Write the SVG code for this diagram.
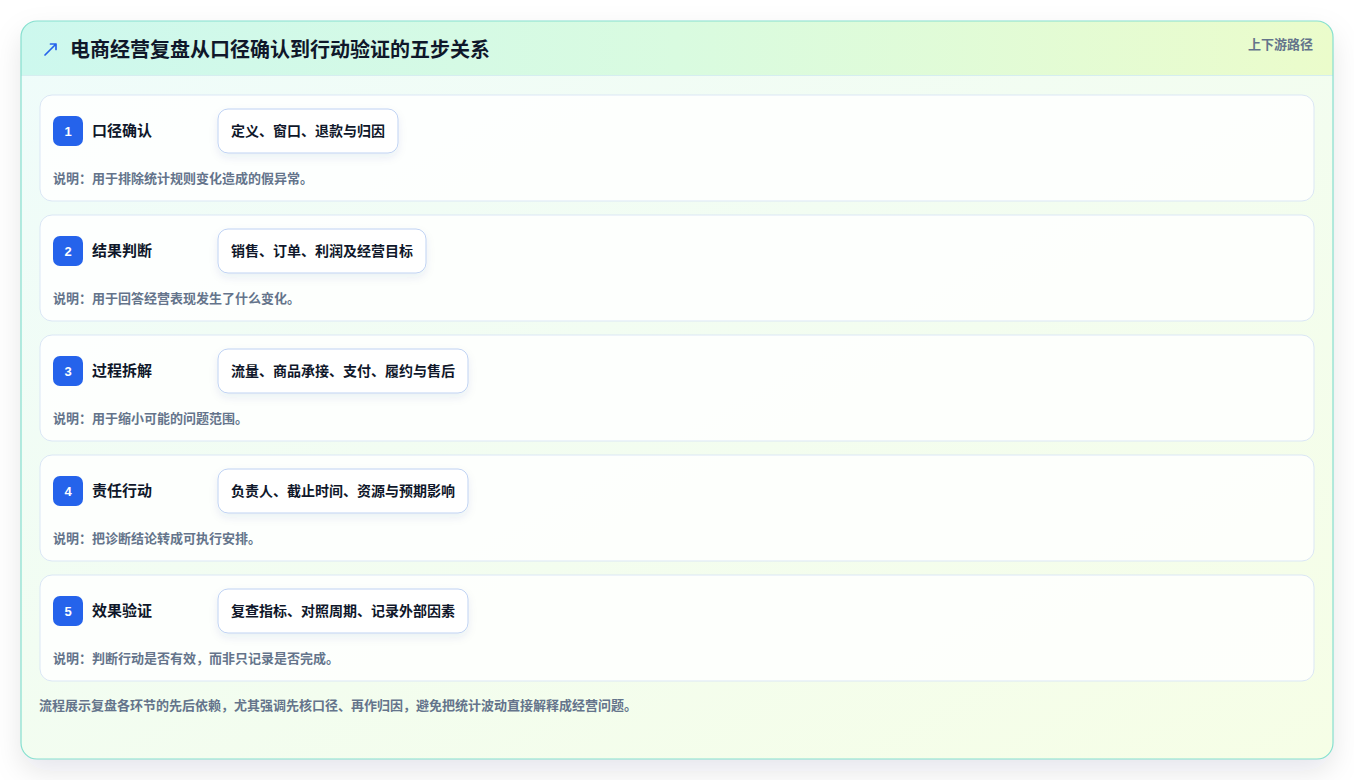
<svg xmlns="http://www.w3.org/2000/svg" width="1354" height="780" viewBox="0 0 1354 780">
<defs>
<linearGradient id="bodyG" x1="0" y1="0" x2="1" y2="1">
<stop offset="0" stop-color="#effcfb"/>
<stop offset="1" stop-color="#f6fee6"/>
</linearGradient>
<linearGradient id="headG" x1="0" y1="0" x2="1" y2="0">
<stop offset="0" stop-color="#cdf8ee"/>
<stop offset="0.5" stop-color="#d9fbe0"/>
<stop offset="1" stop-color="#ebfccb"/>
</linearGradient>
<clipPath id="outerClip"><rect x="21" y="21" width="1312" height="738" rx="16"/></clipPath>
<filter id="outerShadow" x="-5%" y="-5%" width="110%" height="120%">
<feDropShadow dx="0" dy="12" stdDeviation="14" flood-color="#0f172a" flood-opacity="0.1"/>
</filter>
<filter id="pillShadow" x="-10%" y="-20%" width="120%" height="160%">
<feDropShadow dx="0" dy="4" stdDeviation="4" flood-color="#1e3a8a" flood-opacity="0.08"/>
</filter>
<style>
.card{fill:#ffffff;fill-opacity:0.82;stroke:#dbe7f5;stroke-width:1}
.badge{fill:#2563eb}
.num{font-family:"Liberation Sans",Arial,sans-serif;font-size:13px;font-weight:700;fill:#ffffff;text-anchor:middle}
.title{font-family:"Noto Sans CJK SC","Noto Sans",sans-serif;font-size:15px;font-weight:700;fill:#0f172a}
.pill{fill:#ffffff;stroke:#bfd2f3;stroke-width:1}
.pilltxt{font-family:"Noto Sans CJK SC","Noto Sans",sans-serif;font-size:14px;font-weight:700;fill:#0f172a}
.desc{font-family:"Noto Sans CJK SC","Noto Sans",sans-serif;font-size:13px;font-weight:700;fill:#64748b}
</style>
</defs>
<rect x="0" y="0" width="1354" height="780" fill="#ffffff"/>
<g id="frame">
<rect x="21" y="21" width="1312" height="738" rx="16" fill="url(#bodyG)" filter="url(#outerShadow)"/>
<g clip-path="url(#outerClip)">
<rect x="21" y="21" width="1312" height="54" fill="url(#headG)"/>
<line x1="21" y1="75.5" x2="1333" y2="75.5" stroke="#d6eef0" stroke-width="1"/>
</g>
<rect x="21" y="21" width="1312" height="738" rx="16" fill="none" stroke="#86e0cf" stroke-width="1.2"/>
</g>
<g id="header">
<path d="M45 55 L56 44 M50.5 44 L56 44 L56 49.5" fill="none" stroke="#2563eb" stroke-width="1.7" stroke-linecap="round" stroke-linejoin="round"/>
<text x="70" y="57" font-family="'Noto Sans CJK SC','Noto Sans',sans-serif" font-size="20" font-weight="700" fill="#0f172a">电商经营复盘从口径确认到行动验证的五步关系</text>
<text x="1313" y="49" text-anchor="end" font-family="'Noto Sans CJK SC','Noto Sans',sans-serif" font-size="13" font-weight="700" fill="#64748b">上下游路径</text>
</g>
<g id="step1">
<rect class="card" x="40" y="95" width="1274" height="106" rx="12"/>
<rect class="badge" x="53" y="116" width="30" height="30" rx="7"/>
<text class="num" x="68" y="136">1</text>
<text class="title" x="92" y="136">口径确认</text>
<rect class="pill" x="218" y="109" width="180" height="44" rx="10" filter="url(#pillShadow)"/>
<text class="pilltxt" x="231" y="136">定义、窗口、退款与归因</text>
<text class="desc" x="53" y="183">说明：用于排除统计规则变化造成的假异常。</text>
</g>
<g id="step2">
<rect class="card" x="40" y="215" width="1274" height="106" rx="12"/>
<rect class="badge" x="53" y="236" width="30" height="30" rx="7"/>
<text class="num" x="68" y="256">2</text>
<text class="title" x="92" y="256">结果判断</text>
<rect class="pill" x="218" y="229" width="208" height="44" rx="10" filter="url(#pillShadow)"/>
<text class="pilltxt" x="231" y="256">销售、订单、利润及经营目标</text>
<text class="desc" x="53" y="303">说明：用于回答经营表现发生了什么变化。</text>
</g>
<g id="step3">
<rect class="card" x="40" y="335" width="1274" height="106" rx="12"/>
<rect class="badge" x="53" y="356" width="30" height="30" rx="7"/>
<text class="num" x="68" y="376">3</text>
<text class="title" x="92" y="376">过程拆解</text>
<rect class="pill" x="218" y="349" width="250" height="44" rx="10" filter="url(#pillShadow)"/>
<text class="pilltxt" x="231" y="376">流量、商品承接、支付、履约与售后</text>
<text class="desc" x="53" y="423">说明：用于缩小可能的问题范围。</text>
</g>
<g id="step4">
<rect class="card" x="40" y="455" width="1274" height="106" rx="12"/>
<rect class="badge" x="53" y="476" width="30" height="30" rx="7"/>
<text class="num" x="68" y="496">4</text>
<text class="title" x="92" y="496">责任行动</text>
<rect class="pill" x="218" y="469" width="250" height="44" rx="10" filter="url(#pillShadow)"/>
<text class="pilltxt" x="231" y="496">负责人、截止时间、资源与预期影响</text>
<text class="desc" x="53" y="543">说明：把诊断结论转成可执行安排。</text>
</g>
<g id="step5">
<rect class="card" x="40" y="575" width="1274" height="106" rx="12"/>
<rect class="badge" x="53" y="596" width="30" height="30" rx="7"/>
<text class="num" x="68" y="616">5</text>
<text class="title" x="92" y="616">效果验证</text>
<rect class="pill" x="218" y="589" width="250" height="44" rx="10" filter="url(#pillShadow)"/>
<text class="pilltxt" x="231" y="616">复查指标、对照周期、记录外部因素</text>
<text class="desc" x="53" y="663">说明：判断行动是否有效，而非只记录是否完成。</text>
</g>
<g id="connectors"></g>
<g id="footer">
<text class="desc" x="39" y="710">流程展示复盘各环节的先后依赖，尤其强调先核口径、再作归因，避免把统计波动直接解释成经营问题。</text>
</g>
</svg>
